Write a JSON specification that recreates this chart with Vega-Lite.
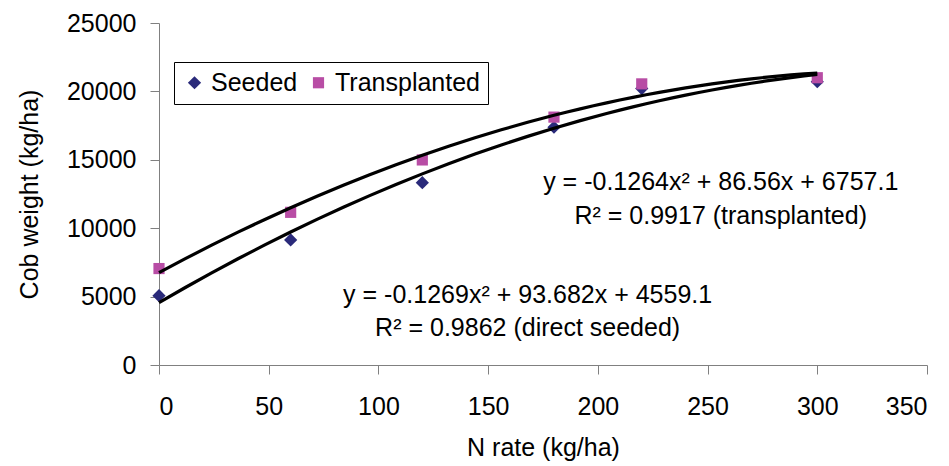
{
  "$schema": "https://vega.github.io/schema/vega-lite/v6.json",
  "width": 768,
  "height": 342,
  "autosize": {"type": "none"},
  "padding": {"left": 159, "top": 23, "right": 22, "bottom": 101},
  "background": "white",
  "config": {
    "view": {"stroke": null},
    "font": "Liberation Sans",
    "axis": {
      "domainColor": "#808080",
      "tickColor": "#808080",
      "labelColor": "black",
      "labelFont": "Liberation Sans",
      "labelFontSize": 25,
      "titleFont": "Liberation Sans",
      "titleFontSize": 25,
      "titleFontWeight": "normal",
      "titleColor": "black",
      "grid": false,
      "tickSize": 9
    },
    "legend": {
      "labelFont": "Liberation Sans",
      "labelFontSize": 25,
      "labelColor": "black"
    }
  },
  "datasets": {
    "yields": [
      {"n": 0, "w": 5070, "series": "Seeded"},
      {"n": 60, "w": 9140, "series": "Seeded"},
      {"n": 120, "w": 13325, "series": "Seeded"},
      {"n": 180, "w": 17380, "series": "Seeded"},
      {"n": 220, "w": 20205, "series": "Seeded"},
      {"n": 300, "w": 20705, "series": "Seeded"},
      {"n": 0, "w": 7050, "series": "Transplanted"},
      {"n": 60, "w": 11160, "series": "Transplanted"},
      {"n": 120, "w": 14990, "series": "Transplanted"},
      {"n": 180, "w": 18120, "series": "Transplanted"},
      {"n": 220, "w": 20550, "series": "Transplanted"},
      {"n": 300, "w": 21000, "series": "Transplanted"}
    ]
  },
  "layer": [
    {
      "data": {"name": "yields"},
      "mark": {"type": "point", "filled": true, "opacity": 1},
      "encoding": {
        "x": {
          "field": "n",
          "type": "quantitative",
          "scale": {"domain": [0, 350], "nice": false},
          "axis": {
            "title": "N rate (kg/ha)",
            "values": [0, 50, 100, 150, 200, 250, 300, 350],
            "labelPadding": 20,
            "titlePadding": 16
          }
        },
        "y": {
          "field": "w",
          "type": "quantitative",
          "scale": {"domain": [0, 25000], "nice": false},
          "axis": {
            "title": "Cob weight (kg/ha)",
            "values": [0, 5000, 10000, 15000, 20000, 25000],
            "format": "d",
            "labelPadding": 14,
            "titlePadding": 24
          }
        },
        "color": {
          "field": "series",
          "type": "nominal",
          "scale": {"domain": ["Seeded", "Transplanted"], "range": ["#2A2A7A", "#B84DA5"]},
          "legend": {
            "title": null,
            "orient": "none",
            "legendX": 15,
            "legendY": 39,
            "direction": "horizontal",
            "strokeColor": "black",
            "fillColor": "white",
            "padding": 8,
            "symbolSize": 140,
            "symbolStrokeWidth": 0,
            "labelOffset": 4,
            "columnPadding": 8
          }
        },
        "shape": {
          "field": "series",
          "type": "nominal",
          "scale": {"domain": ["Seeded", "Transplanted"], "range": ["diamond", "square"]},
          "legend": {
            "title": null,
            "orient": "none",
            "legendX": 15,
            "legendY": 39,
            "direction": "horizontal",
            "strokeColor": "black",
            "fillColor": "white",
            "padding": 8,
            "symbolSize": 140,
            "symbolStrokeWidth": 0,
            "labelOffset": 4,
            "columnPadding": 8
          }
        },
        "size": {
          "field": "series",
          "type": "nominal",
          "scale": {"domain": ["Seeded", "Transplanted"], "range": [175, 125]},
          "legend": null
        }
      }
    },
    {
      "data": {"name": "yields"},
      "transform": [
        {"regression": "w", "on": "n", "groupby": ["series"], "method": "poly", "order": 2, "extent": [0, 300]}
      ],
      "mark": {"type": "line", "color": "black", "strokeWidth": 3.2},
      "encoding": {
        "x": {"field": "n", "type": "quantitative"},
        "y": {"field": "w", "type": "quantitative"},
        "detail": {"field": "series"}
      }
    },
    {
      "data": {"values": [{}]},
      "mark": {"type": "text", "fontSize": 25, "align": "center", "baseline": "alphabetic", "color": "black"},
      "encoding": {
        "x": {"datum": 256, "type": "quantitative"},
        "y": {"datum": 12800, "type": "quantitative"},
        "text": {"value": "y = -0.1264x² + 86.56x + 6757.1"}
      }
    },
    {
      "data": {"values": [{}]},
      "mark": {"type": "text", "fontSize": 25, "align": "center", "baseline": "alphabetic", "color": "black"},
      "encoding": {
        "x": {"datum": 256, "type": "quantitative"},
        "y": {"datum": 10300, "type": "quantitative"},
        "text": {"value": "R² = 0.9917 (transplanted)"}
      }
    },
    {
      "data": {"values": [{}]},
      "mark": {"type": "text", "fontSize": 25, "align": "center", "baseline": "alphabetic", "color": "black"},
      "encoding": {
        "x": {"datum": 168, "type": "quantitative"},
        "y": {"datum": 4550, "type": "quantitative"},
        "text": {"value": "y = -0.1269x² + 93.682x + 4559.1"}
      }
    },
    {
      "data": {"values": [{}]},
      "mark": {"type": "text", "fontSize": 25, "align": "center", "baseline": "alphabetic", "color": "black"},
      "encoding": {
        "x": {"datum": 168, "type": "quantitative"},
        "y": {"datum": 2120, "type": "quantitative"},
        "text": {"value": "R² = 0.9862 (direct seeded)"}
      }
    }
  ]
}
